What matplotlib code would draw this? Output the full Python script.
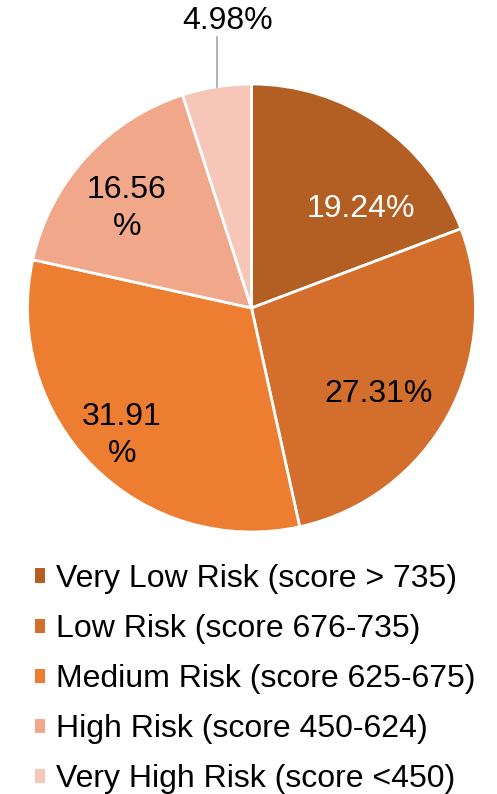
import matplotlib
matplotlib.use("Agg")
import matplotlib.pyplot as plt
from matplotlib.patches import Patch
import numpy as np

plt.rcParams['font.family'] = ['Liberation Sans', 'DejaVu Sans']

categories = ["Very Low Risk (score > 735)", "Low Risk (score 676-735)",
              "Medium Risk (score 625-675)", "High Risk (score 450-624)",
              "Very High Risk (score <450)"]
values = [19.24, 27.31, 31.91, 16.56, 4.98]
value_labels = ["19.24%", "27.31%", "31.91\n%", "16.56\n%", "4.98%"]
colors = ["#B35E22", "#D36E2D", "#ED7D31", "#F1A88A", "#F6C7B8"]
label_colors = ["white", "black", "black", "black", "black"]

W, H = 497, 794
fig = plt.figure(figsize=(W / 100, H / 100), dpi=100)
cx, cy, R = 251.5, 308, 224
ax = fig.add_axes([(cx - R) / W, (H - cy - R) / H, 2 * R / W, 2 * R / H])

wedges, _ = ax.pie(values, colors=colors, startangle=90, counterclock=False,
                   radius=1, wedgeprops=dict(edgecolor='white', linewidth=2.0))
ax.set_xlim(-1, 1)
ax.set_ylim(-1, 1)
ax.set_aspect('equal')
ax.axis('off')

label_r = [0.659, 0.683, 0.813, 0.713, None]
label_shift = [-13.3, -5.6, -0.4, 3.6, 0]  # degrees
for i, w in enumerate(wedges):
    mid = np.deg2rad((w.theta1 + w.theta2) / 2 + label_shift[i])
    if label_r[i] is not None:
        ax.text(label_r[i] * np.cos(mid), label_r[i] * np.sin(mid), value_labels[i],
                ha='center', va='center', fontsize=23, color=label_colors[i],
                linespacing=1.3)
    else:
        x0, y0 = np.cos(mid), np.sin(mid)
        ax.plot([x0, x0], [y0, 1.21], color='#A6A6A6', lw=1.2, clip_on=False)
        ax.text(x0 + 0.05, 1.28, value_labels[i], ha='center', va='center',
                fontsize=23, color='black', clip_on=False)

handles = [Patch(facecolor=c, edgecolor='none') for c in colors]
fig.legend(handles, categories, loc='upper left',
           bbox_to_anchor=(35 / W, 1 - 564 / H), frameon=False, fontsize=23,
           handlelength=0.31, handleheight=0.31, handletextpad=0.34,
           labelspacing=0.63, borderpad=0, borderaxespad=0)

fig.savefig("out.png", dpi=100)
